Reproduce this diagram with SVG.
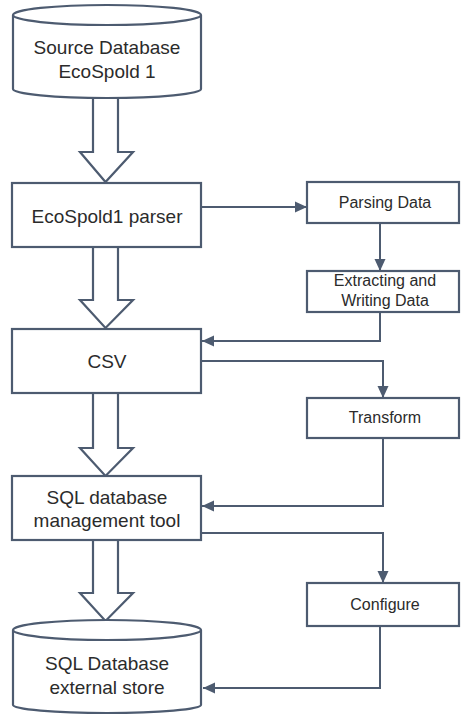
<svg xmlns="http://www.w3.org/2000/svg" width="461" height="716" viewBox="0 0 461 716">
<defs>
<marker id="ah" viewBox="0 0 12 12" refX="12" refY="6" markerWidth="12" markerHeight="12" markerUnits="userSpaceOnUse" orient="auto">
<path d="M0,0.5 L12,6 L0,11.5 Z" fill="#4d5b70"/>
</marker>
<style>
.shape{fill:#fff;stroke:#4d5b70;stroke-width:2.2}
.big{fill:#fff;stroke:#4d5b70;stroke-width:2.2;stroke-linejoin:miter}
.conn{fill:none;stroke:#4d5b70;stroke-width:2}
.t1{font-family:"Liberation Sans",Arial,sans-serif;font-size:19px;fill:#2b2b2b;text-anchor:middle}
.t2{font-family:"Liberation Sans",Arial,sans-serif;font-size:16px;fill:#2b2b2b;text-anchor:middle}
</style>
</defs>
<rect width="461" height="716" fill="#fff"/>
<g id="connectors">
<polygon class="big" points="93,97 118,97 118,152 133,152 105.5,182 80,152 93,152"/>
<polygon class="big" points="93,247 118,247 118,300 133,300 105.5,328 80,300 93,300"/>
<polygon class="big" points="93,393 118,393 118,448 133,448 105.5,476 80,448 93,448"/>
<polygon class="big" points="93,540 118,540 118,593 133,593 105.5,621 80,593 93,593"/>
<path class="conn" d="M201,207 H307" marker-end="url(#ah)"/>
<path class="conn" d="M380,223 V271" marker-end="url(#ah)"/>
<path class="conn" d="M380,312 V341 H202" marker-end="url(#ah)"/>
<path class="conn" d="M202,361 H383 V398" marker-end="url(#ah)"/>
<path class="conn" d="M383,438 V506 H202" marker-end="url(#ah)"/>
<path class="conn" d="M202,533 H383 V583" marker-end="url(#ah)"/>
<path class="conn" d="M380,626 V688 H203" marker-end="url(#ah)"/>
</g>
<g id="source-db">
<path class="shape" d="M13,15 L13,89 A94,9 0 0 0 201,89 L201,15"/>
<ellipse class="shape" cx="107" cy="15" rx="94" ry="10"/>
<text class="t1" x="107" y="54">Source Database</text>
<text class="t1" x="107" y="78">EcoSpold 1</text>
</g>
<g id="parser">
<rect class="shape" x="12" y="183" width="189" height="64"/>
<text class="t1" x="107" y="223">EcoSpold1 parser</text>
</g>
<g id="parsing-data">
<rect class="shape" x="307" y="182" width="152" height="41"/>
<text class="t2" x="385" y="208">Parsing Data</text>
</g>
<g id="extracting">
<rect class="shape" x="307" y="271" width="152" height="41"/>
<text class="t2" x="385" y="286">Extracting and</text>
<text class="t2" x="385" y="306">Writing Data</text>
</g>
<g id="csv">
<rect class="shape" x="12" y="329" width="189" height="64"/>
<text class="t1" x="107" y="368">CSV</text>
</g>
<g id="transform">
<rect class="shape" x="307" y="398" width="152" height="40"/>
<text class="t2" x="385" y="423">Transform</text>
</g>
<g id="sql-tool">
<rect class="shape" x="12" y="476" width="189" height="64"/>
<text class="t1" x="107" y="504">SQL database</text>
<text class="t1" x="107" y="527">management tool</text>
</g>
<g id="configure">
<rect class="shape" x="307" y="583" width="152" height="43"/>
<text class="t2" x="385" y="610">Configure</text>
</g>
<g id="sql-db">
<path class="shape" d="M13,630 L13,705 A94,8 0 0 0 201,705 L201,630"/>
<ellipse class="shape" cx="107" cy="630" rx="94" ry="10"/>
<text class="t1" x="107" y="670">SQL Database</text>
<text class="t1" x="107" y="694">external store</text>
</g>
</svg>
